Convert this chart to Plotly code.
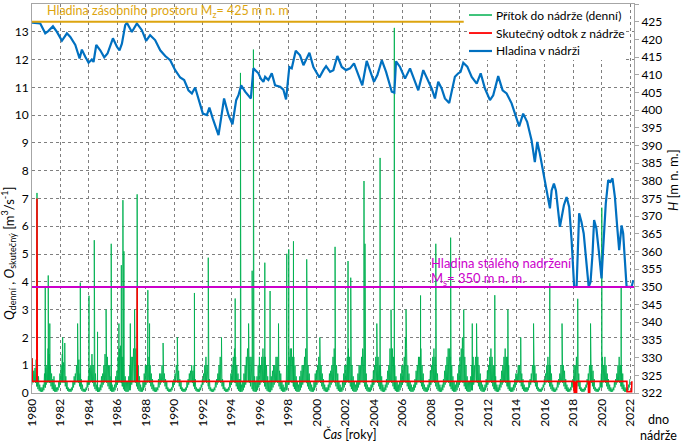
import plotly.graph_objects as go

# ---------------- data ----------------
START_YEAR = 1980
# typical lowest daily inflow in each calendar month [m3/s]
BASE_MONTH = [0.30, 0.38, 0.42, 0.36, 0.24, 0.14, 0.08, 0.05, 0.04, 0.05, 0.10, 0.20]
# highest daily inflow in each month (Jan..Dec), one row per year 1980..2021 [m3/s]
INFLOW_MAX = [
    [0.9, 0.8, 0.9, 1.2, 0.8, 0.6, 0.3, 0.2, 0.2, 0.3, 0.7, 0.9],   # 1980
    [1.0, 1.6, 1.4, 1.0, 0.7, 0.5, 0.6, 0.3, 0.2, 0.2, 0.4, 0.7],   # 1981
    [1.0, 1.4, 1.1, 1.0, 0.6, 0.4, 0.2, 0.15, 0.15, 0.2, 0.4, 0.6],  # 1982
    [0.7, 1.0, 1.6, 1.2, 0.7, 0.5, 0.3, 0.15, 0.15, 0.2, 0.4, 0.6],  # 1983
    [0.9, 1.0, 1.4, 1.0, 1.5, 0.7, 0.3, 0.2, 0.2, 0.3, 0.6, 0.7],   # 1984
    [1.0, 1.4, 2.0, 1.3, 1.0, 1.0, 0.6, 0.3, 0.2, 0.3, 0.6, 0.8],   # 1985
    [1.3, 1.6, 1.7, 1.3, 1.3, 1.0, 0.6, 0.4, 0.4, 0.6, 1.0, 1.3],   # 1986
    [1.3, 1.6, 2.0, 1.6, 1.3, 1.0, 0.6, 0.3, 0.2, 0.4, 0.7, 1.0],   # 1987
    [1.0, 1.6, 1.3, 1.0, 0.7, 0.5, 0.3, 0.2, 0.2, 0.2, 0.5, 0.7],   # 1988
    [0.7, 1.0, 0.8, 0.7, 0.5, 0.4, 0.2, 0.15, 0.15, 0.2, 0.4, 0.5],  # 1989
    [0.7, 1.0, 1.3, 0.8, 0.5, 0.4, 0.2, 0.15, 0.15, 0.2, 0.4, 0.5],  # 1990
    [0.7, 0.8, 1.0, 0.8, 1.0, 0.5, 0.2, 0.15, 0.15, 0.2, 0.3, 0.5],  # 1991
    [0.7, 1.0, 1.3, 1.0, 1.0, 0.5, 0.2, 0.15, 0.15, 0.2, 0.4, 0.5],  # 1992
    [0.7, 1.0, 1.3, 1.0, 0.5, 0.4, 0.2, 0.15, 0.15, 0.2, 0.4, 0.7],  # 1993
    [1.0, 1.3, 1.6, 1.3, 1.0, 0.7, 0.5, 0.5, 0.3, 0.4, 0.7, 1.0],   # 1994
    [1.3, 1.6, 1.6, 1.3, 1.3, 1.3, 1.0, 0.6, 0.4, 0.6, 1.0, 1.3],   # 1995
    [1.0, 1.3, 1.6, 1.3, 1.3, 1.0, 0.6, 0.4, 1.0, 0.6, 0.8, 1.0],   # 1996
    [1.0, 1.3, 1.3, 1.0, 0.8, 0.7, 0.4, 0.3, 0.2, 0.4, 1.3, 1.0],   # 1997
    [1.3, 1.6, 1.6, 1.3, 1.3, 1.0, 0.6, 0.4, 0.3, 0.6, 0.8, 1.0],   # 1998
    [1.0, 1.3, 1.6, 1.6, 1.0, 0.7, 0.4, 0.3, 0.2, 0.4, 0.7, 0.8],   # 1999
    [1.0, 1.3, 1.3, 1.0, 0.7, 0.5, 0.3, 0.2, 0.2, 0.3, 0.7, 0.8],   # 2000
    [1.0, 1.3, 1.6, 1.6, 1.0, 0.7, 0.4, 0.3, 0.2, 0.4, 0.7, 1.0],   # 2001
    [1.0, 1.3, 1.6, 1.3, 1.3, 1.0, 0.6, 0.4, 0.3, 0.4, 0.7, 1.0],   # 2002
    [1.0, 1.3, 1.6, 1.6, 1.3, 0.7, 0.3, 0.2, 0.2, 0.3, 0.5, 0.8],   # 2003
    [1.0, 1.3, 1.3, 1.3, 1.0, 1.0, 0.6, 0.3, 0.2, 0.3, 0.5, 0.8],   # 2004
    [1.0, 1.6, 2.0, 1.6, 1.3, 1.0, 0.6, 0.4, 0.3, 0.4, 0.7, 1.0],   # 2005
    [1.0, 1.3, 2.0, 1.6, 1.0, 0.7, 0.4, 0.3, 0.2, 0.3, 0.5, 0.8],   # 2006
    [1.0, 1.3, 1.3, 1.6, 1.0, 0.7, 0.3, 0.2, 0.2, 0.3, 0.5, 0.8],   # 2007
    [1.0, 1.3, 1.6, 1.3, 1.0, 0.7, 0.4, 0.3, 0.2, 0.3, 0.5, 0.8],   # 2008
    [1.0, 1.3, 1.6, 1.6, 1.3, 1.0, 0.6, 0.4, 0.3, 0.4, 0.7, 1.0],   # 2009
    [1.3, 1.6, 2.0, 1.6, 1.3, 1.0, 0.6, 0.4, 0.4, 0.6, 1.0, 1.3],   # 2010
    [1.0, 1.3, 1.6, 1.3, 1.0, 0.7, 0.4, 0.3, 0.2, 0.3, 0.5, 0.8],   # 2011
    [1.0, 1.3, 1.6, 1.3, 1.0, 1.0, 0.6, 0.3, 0.2, 0.3, 0.5, 0.8],   # 2012
    [1.0, 1.3, 1.6, 1.3, 1.3, 1.0, 0.4, 0.2, 0.2, 0.3, 0.5, 0.7],   # 2013
    [0.7, 1.0, 1.0, 0.8, 0.7, 0.5, 0.3, 0.2, 0.2, 0.2, 0.4, 0.5],   # 2014
    [0.7, 1.0, 1.3, 1.0, 0.7, 0.4, 0.2, 0.15, 0.15, 0.2, 0.3, 0.5],  # 2015
    [0.7, 1.0, 1.3, 1.0, 1.0, 0.7, 0.3, 0.2, 0.15, 0.2, 0.4, 0.5],  # 2016
    [0.7, 1.0, 1.3, 1.0, 0.8, 0.5, 0.3, 0.2, 0.15, 0.2, 0.4, 0.5],  # 2017
    [1.0, 1.0, 1.3, 1.0, 0.7, 0.4, 0.2, 0.15, 0.15, 0.2, 0.3, 0.5],  # 2018
    [0.7, 1.0, 1.3, 1.0, 0.8, 0.5, 0.2, 0.15, 0.15, 0.2, 0.4, 0.7],  # 2019
    [1.3, 1.0, 1.3, 1.0, 0.7, 0.5, 0.3, 0.2, 0.15, 0.2, 0.4, 0.5],  # 2020
    [0.7, 1.0, 1.3, 1.0, 1.0, 0.7, 0.3, 0.2, 0.15, 0.2, 0.3, 0.5],  # 2021
]
# isolated high daily peaks of the inflow
SPIKE_T = [1980.01, 1980.35, 1980.93, 1981.14, 1981.25, 1982.15, 1982.3, 1983.2, 1983.39, 1984.0,
           1984.37, 1984.6, 1985.2, 1985.56, 1986.1, 1986.27, 1986.38, 1986.45, 1986.9, 1987.2,
           1987.38, 1988.13, 1988.25, 1989.2, 1990.2, 1991.4, 1992.37, 1993.3, 1994.26, 1994.63,
           1995.2, 1995.45, 1995.54, 1996.34, 1996.71, 1997.3, 1997.88, 1998.02, 1998.35, 1999.28,
           2000.2, 2001.27, 2001.3, 2002.18, 2002.37, 2003.3, 2003.37, 2004.2, 2004.43, 2005.2,
           2005.43, 2006.25, 2007.27, 2008.34, 2009.38, 2010.3, 2010.9, 2011.2, 2012.48, 2013.4,
           2014.3, 2015.2, 2016.34, 2017.2, 2018.3, 2019.2, 2019.99, 2021.35]
SPIKE_Q = [1.25, 7.2, 3.8, 4.23, 2.5, 2.0, 1.8, 2.5, 3.97, 3.5,
           5.5, 2.2, 3.0, 5.37, 2.5, 4.6, 6.94, 5.1, 2.5, 3.0,
           7.15, 3.7, 2.5, 1.8, 2.0, 3.6, 4.87, 2.0, 3.4, 11.52,
           2.5, 4.4, 12.36, 4.69, 3.67, 2.5, 5.01, 5.17, 5.46, 4.81,
           2.0, 5.26, 4.28, 4.75, 4.15, 7.63, 5.37, 2.5, 8.46, 3.0,
           13.14, 3.0, 3.51, 5.37, 5.59, 3.0, 2.5, 2.5, 3.52, 3.0,
           2.0, 2.5, 3.95, 2.5, 3.39, 2.5, 6.67, 3.85]

# actual outflow [m3/s]
RED_T = [1980.0, 1980.02, 1980.34, 1980.35, 1980.37, 1987.37, 1987.38, 1987.39,
         2018.0, 2018.02, 2018.04, 2018.06, 2018.08, 2018.10, 2018.12, 2018.14, 2018.16,
         2018.18, 2018.20, 2018.22, 2018.24, 2018.26,
         2019.04, 2019.06, 2019.08, 2019.10, 2019.12, 2019.14, 2019.16,
         2021.75, 2021.76, 2022.08, 2022.1]
RED_Q = [1.25, 0.42, 0.42, 7.0, 0.42, 0.42, 3.8, 0.42,
         0.42, 0.0, 0.42, 0.0, 0.42, 0.0, 0.42, 0.0, 0.42,
         0.0, 0.42, 0.0, 0.42, 0.42,
         0.42, 0.0, 0.42, 0.0, 0.42, 0.0, 0.42,
         0.42, 0.05, 0.05, 0.42]

# water level in the reservoir [m n. m.]
BLUE_T = [1980.0, 1980.3, 1980.58, 1980.93, 1981.16, 1981.47, 1981.75, 1982.1, 1982.45, 1982.69,
          1983.04, 1983.34, 1983.5, 1983.74, 1983.97, 1984.2, 1984.32, 1984.51, 1984.79, 1985.07,
          1985.3, 1985.68, 1985.96, 1986.14, 1986.31, 1986.54, 1986.66, 1987.01, 1987.36, 1987.71,
          1988.01, 1988.29, 1988.64, 1989.0, 1989.35, 1989.7, 1990.05, 1990.4, 1990.68, 1990.98,
          1991.22, 1991.45, 1991.68, 1991.99, 1992.27, 1992.45, 1992.69, 1993.09, 1993.32, 1993.48,
          1993.79, 1994.07, 1994.33, 1994.49, 1994.68, 1994.96, 1995.36, 1995.54, 1995.89, 1996.06,
          1996.24, 1996.36, 1996.59, 1996.83, 1997.06, 1997.41, 1997.64, 1997.83, 1998.06, 1998.23,
          1998.51, 1998.81, 1999.05, 1999.47, 1999.75, 2000.17, 2000.45, 2000.64, 2000.92, 2001.15,
          2001.43, 2001.74, 2002.04, 2002.32, 2002.6, 2002.9, 2003.18, 2003.49, 2003.72, 2004.0,
          2004.24, 2004.55, 2004.85, 2005.25, 2005.43, 2005.55, 2005.83, 2006.18, 2006.53, 2006.81,
          2007.11, 2007.46, 2007.74, 2008.05, 2008.28, 2008.51, 2008.75, 2008.98, 2009.28, 2009.52,
          2009.68, 2009.92, 2010.08, 2010.27, 2010.55, 2010.86, 2011.21, 2011.49, 2011.79, 2012.14,
          2012.37, 2012.72, 2013.03, 2013.31, 2013.66, 2014.19, 2014.47, 2014.75, 2015.06, 2015.29,
          2015.46, 2015.64, 2015.88, 2016.16, 2016.35, 2016.47, 2016.63, 2016.77, 2017.05, 2017.33,
          2017.52, 2017.7, 2017.87, 2018.05, 2018.22, 2018.4, 2018.56, 2018.72, 2018.91, 2019.07,
          2019.2, 2019.34, 2019.45, 2019.61, 2019.8, 2019.97, 2020.08, 2020.27, 2020.44, 2020.6,
          2020.74, 2020.91, 2021.07, 2021.21, 2021.38, 2021.49, 2021.61, 2021.73, 2022.08, 2022.2]
BLUE_H = [424.7, 424.6, 424.5, 421.7, 422.4, 423.7, 422.1, 419.6, 421.7, 420.7,
          418.4, 414.6, 417.1, 415.1, 413.4, 414.3, 413.6, 418.4, 416.9, 414.9,
          416.0, 420.3, 417.9, 416.9, 418.8, 424.0, 424.7, 422.1, 424.5, 422.6,
          419.6, 421.2, 419.8, 416.9, 415.3, 414.1, 411.3, 409.2, 408.5, 405.6,
          404.7, 406.4, 403.3, 399.0, 398.6, 400.7, 397.6, 392.9, 399.0, 403.3,
          398.6, 396.0, 402.8, 404.2, 407.0, 405.2, 403.3, 411.8, 410.4, 408.9,
          408.0, 409.4, 408.5, 410.4, 407.0, 406.6, 405.8, 403.0, 412.2, 411.8,
          416.8, 415.5, 412.7, 416.2, 412.2, 409.2, 411.3, 412.4, 410.8, 411.3,
          415.3, 412.2, 411.3, 411.8, 413.2, 410.1, 407.0, 413.9, 411.3, 408.0,
          409.9, 414.1, 410.8, 405.2, 404.9, 413.8, 412.2, 408.9, 411.8, 408.9,
          405.6, 411.3, 408.9, 406.1, 403.3, 408.0, 406.1, 403.3, 402.0, 407.0,
          409.4, 410.4, 410.8, 413.4, 412.3, 409.4, 407.5, 410.4, 406.1, 402.8,
          404.2, 409.6, 405.6, 404.7, 401.9, 395.4, 399.0, 396.7, 391.5, 385.3,
          391.0, 387.7, 382.1, 376.4, 372.2, 377.3, 379.2, 377.3, 367.0, 373.1,
          375.4, 372.6, 363.2, 350.0, 350.0, 370.8, 368.4, 365.1, 355.6, 350.0,
          351.4, 359.4, 368.9, 366.5, 359.4, 352.4, 360.4, 373.6, 380.2, 379.7,
          380.7, 375.4, 367.0, 360.4, 367.4, 365.1, 357.5, 350.0, 350.0, 351.9]

M_Z = 425          # hladina zásobního prostoru
M_Z_END = 2010.3
M_S = 350          # hladina stálého nadržení
X_TICKS = list(range(1980, 2023, 2))
LEFT_TICKS = list(range(0, 15))
RIGHT_TICKVALS = list(range(320, 431, 5))
RIGHT_TICKTEXT = ["322"] + [str(v) for v in range(325, 431, 5)]
LEGEND_NAMES = ["Přítok do nádrže (denní)", "Skutečný odtok z nádrže", "Hladina v nádrži"]

# ---------------- build inflow polyline ----------------
pts = []
for i, row in enumerate(INFLOW_MAX):
    yr = START_YEAR + i
    for m, q in enumerate(row):
        pts.append((yr + m / 12.0, BASE_MONTH[m]))
        pts.append((yr + (m + 0.5) / 12.0, q))
for t, q in zip(SPIKE_T, SPIKE_Q):
    m = int((t % 1) * 12) % 12
    pts.append((t - 0.002, BASE_MONTH[m]))
    pts.append((t, q))
    pts.append((t + 0.002, BASE_MONTH[m]))
pts.sort()
g_t = [p[0] for p in pts]
g_q = [p[1] for p in pts]

GREEN = "#00B050"
RED = "#FF0000"
BLUE = "#0070C0"
ORANGE = "#DDA50F"
MAGENTA = "#CC00CC"
FONT = "Lato"

fig = go.Figure()
fig.add_trace(go.Scatter(x=g_t, y=g_q, mode="lines", name=LEGEND_NAMES[0],
                         line=dict(color=GREEN, width=0.9)))
fig.add_trace(go.Scatter(x=RED_T, y=RED_Q, mode="lines", name=LEGEND_NAMES[1],
                         line=dict(color=RED, width=1.6)))
fig.add_trace(go.Scatter(x=BLUE_T, y=BLUE_H, mode="lines", name=LEGEND_NAMES[2],
                         line=dict(color=BLUE, width=2.2), yaxis="y2"))
fig.add_trace(go.Scatter(x=[START_YEAR, M_Z_END], y=[M_Z, M_Z], mode="lines",
                         line=dict(color=ORANGE, width=2), yaxis="y2"))
fig.add_trace(go.Scatter(x=[START_YEAR, 2022.25], y=[M_S, M_S], mode="lines",
                         line=dict(color=MAGENTA, width=2), yaxis="y2"))

grid = dict(showgrid=True, gridcolor="#7F7F7F", griddash="dot", gridwidth=1)
fig.update_layout(
    width=681, height=443,
    margin=dict(l=32, r=47, t=4, b=50),
    paper_bgcolor="white", plot_bgcolor="white",
    font=dict(family=FONT, size=12, color="#000000"),
    showlegend=False,
    xaxis=dict(range=[1980, 2022.25], tickvals=X_TICKS, tickangle=-90, zeroline=False,
               showline=True, linecolor="#A6A6A6", mirror=True, ticks="", **grid),
    yaxis=dict(range=[0, 14], tickvals=LEFT_TICKS, zeroline=False, showline=True,
               linecolor="#A6A6A6", ticks="", **grid),
    yaxis2=dict(range=[320, 430], tickvals=RIGHT_TICKVALS, ticktext=RIGHT_TICKTEXT,
                overlaying="y", side="right", showgrid=False, zeroline=False,
                showline=True, linecolor="#A6A6A6", ticks="outside", ticklen=4,
                tickcolor="#A6A6A6"),
)

# legend box drawn in paper coordinates (white box over the grid, line samples, labels)
LEG_X0, LEG_X1 = 0.7226, 0.9867
LEG_Y0, LEG_Y1 = 0.856, 1.0
ROW_Y = [0.9717, 0.9254, 0.8792]
SAMPLE_X0, SAMPLE_X1, TEXT_X = 0.7259, 0.7641, 0.7674
shapes = [dict(type="rect", xref="paper", yref="paper", x0=LEG_X0, x1=LEG_X1, y0=LEG_Y0,
               y1=LEG_Y1, fillcolor="white", line=dict(width=0), layer="above")]
ann = []
for name, col, w, yy in zip(LEGEND_NAMES, [GREEN, RED, BLUE], [1.5, 1.8, 2.2], ROW_Y):
    shapes.append(dict(type="line", xref="paper", yref="paper", x0=SAMPLE_X0, x1=SAMPLE_X1,
                       y0=yy, y1=yy, line=dict(color=col, width=w), layer="above"))
    ann.append(dict(text=name, x=TEXT_X, y=yy, xanchor="left", yanchor="middle",
                    font=dict(size=12)))

ann += [
    dict(text="Hladina zásobního prostoru M<sub>z</sub>= 425 m n. m", x=0.0216, y=0.981,
         xanchor="left", yanchor="middle", font=dict(color=ORANGE, size=12.5)),
    dict(text="Hladina stálého nadržení", x=0.659, y=0.334, xanchor="left", yanchor="middle",
         font=dict(color=MAGENTA, size=13)),
    dict(text="M<sub>s</sub>= 350 m n. m.", x=0.659, y=0.293, xanchor="left", yanchor="middle",
         font=dict(color=MAGENTA, size=13)),
    dict(text="<i>Čas</i> [roky]", x=0.527, y=-0.106, xanchor="center", yanchor="middle",
         font=dict(size=12.5)),
    dict(text="<i>Q</i><sub>denní</sub> , <i>O</i><sub>skutečný</sub> [m<sup>3</sup>/s<sup>-1</sup>]",
         x=-0.038, y=0.36, textangle=-90, xanchor="center", yanchor="middle", font=dict(size=13)),
    dict(text="<i>H</i> [m n. m.]", x=1.065, y=0.548, textangle=-90, xanchor="center",
         yanchor="middle", font=dict(size=13)),
    dict(text="dno<br>nádrže", x=1.04, y=-0.088, xanchor="center", yanchor="middle",
         font=dict(size=12.5)),
    dict(text=" ", x=1.003, y=-0.0026, showarrow=True, ax=17, ay=11, arrowhead=2,
         arrowsize=1, arrowwidth=1, arrowcolor="#000000"),
]
for a in ann:
    a.setdefault("showarrow", False)
    a["xref"] = "paper"
    a["yref"] = "paper"
fig.update_layout(annotations=ann, shapes=shapes)

fig.write_html("out.html", config={"displayModeBar": False},
               post_script="document.body.style.margin='0';document.body.style.padding='0';")
